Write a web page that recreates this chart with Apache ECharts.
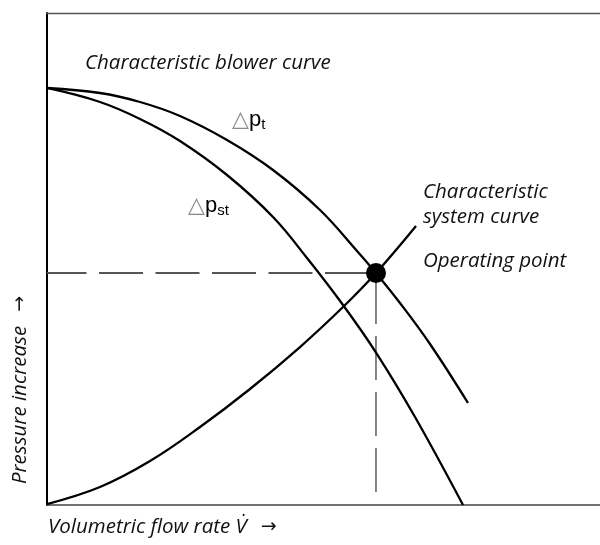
<!DOCTYPE html>
<html>
<head>
<meta charset="utf-8">
<script src="https://cdn.jsdelivr.net/npm/echarts@6/dist/echarts.min.js"></script>
<style>
  html, body { margin: 0; padding: 0; background: #fff; }
  #chart { width: 600px; height: 545px; }
</style>
</head>
<body>
<div id="chart"></div>
<script>
// blower curve, total pressure (dp_t)
const flowT = [0, 9.58, 16.82, 24.05, 32.55, 40.87, 49.37, 56.06, 59.49, 63.83, 69.26, 76.13];
const pressT = [84.76, 83.74, 81.91, 79.07, 74.19, 68.09, 59.96, 51.63, 47.15, 41.06, 32.72, 20.73];
// blower curve, static pressure (dp_st)
const flowSt = [0, 9.58, 16.82, 24.05, 32.55, 40.87, 47.02, 53.53, 59.67, 66.55, 75.23];
const pressSt = [84.76, 81.91, 78.46, 73.98, 67.07, 58.54, 50.20, 40.65, 30.69, 17.89, 0];
// system curve
const flowSys = [0, 9.58, 18.63, 27.67, 36.71, 45.75, 53.53, 59.49, 66.73];
const pressSys = [0.2, 3.66, 8.94, 15.85, 23.58, 32.11, 40.24, 47.15, 56.71];
// operating point + end of the vertical guide
const opFlow = 59.49;
const opPress = 47.15;
const vDashEnd = 2.0;

const labels = {
  blower: 'Characteristic blower curve',
  system1: 'Characteristic',
  system2: 'system curve',
  op: 'Operating point',
  yName: 'Pressure increase',
  xName: 'Volumetric flow rate V\u0307'
};

const pairs = (xs, ys) => xs.map((x, i) => [x, ys[i]]);

const italic = { fontFamily: 'Open Sans', fontStyle: 'italic', fontSize: 20.5, fill: '#111' };
const arrowRich = {
  t: { fontFamily: 'Open Sans', fontStyle: 'italic', fontSize: 20.5, fill: '#111' },
  a: { fontFamily: 'DejaVu Sans', fontSize: 19, fill: '#111', padding: [0, 0, 0, 14] }
};

const hiddenAxis = {
  type: 'value', min: 0, max: 100,
  axisTick: { show: false }, axisLabel: { show: false }, splitLine: { show: false }
};

const curve = (data) => ({
  type: 'line', data: data, smooth: 0.4, showSymbol: false, silent: true,
  lineStyle: { color: '#000', width: 2.3 }
});

const dpRich = {
  tri: { fontFamily: 'DejaVu Sans', fontSize: 22, fill: '#8a8a8a' },
  p: { fontFamily: 'Liberation Sans', fontSize: 22, fill: '#000' },
  sub: { fontFamily: 'Liberation Sans', fontSize: 15, fill: '#000', padding: [10, 0, 0, 0] }
};

const option = {
  animation: false,
  grid: { left: 47, right: 0, top: 13, bottom: 40 },
  xAxis: [
    Object.assign({}, hiddenAxis, { position: 'bottom', axisLine: { show: true, lineStyle: { color: '#444', width: 1.6 } } }),
    Object.assign({}, hiddenAxis, { position: 'top', axisLine: { show: true, lineStyle: { color: '#555', width: 1.4 } } })
  ],
  yAxis: Object.assign({}, hiddenAxis, { axisLine: { show: true, lineStyle: { color: '#000', width: 2 } } }),
  series: [
    {
      type: 'line', data: [[0, opPress], [opFlow, opPress]], showSymbol: false, silent: true,
      lineStyle: { color: '#555', width: 1.8, type: [44, 12.5], dashOffset: 4.5 }
    },
    {
      type: 'line', data: [[opFlow, opPress], [opFlow, vDashEnd]], showSymbol: false, silent: true,
      lineStyle: { color: '#333', width: 1.2, type: [44, 12], dashOffset: 49 }
    },
    curve(pairs(flowT, pressT)),
    curve(pairs(flowSt, pressSt)),
    curve(pairs(flowSys, pressSys)),
    {
      type: 'scatter', data: [[opFlow, opPress]], symbolSize: 20, silent: true, z: 10,
      itemStyle: { color: '#000', opacity: 1 }
    }
  ],
  graphic: [
    { type: 'text', left: 85, top: 53, style: Object.assign({ text: labels.blower }, italic) },
    { type: 'text', left: 423, top: 182, style: Object.assign({ text: labels.system1 }, italic) },
    { type: 'text', left: 423, top: 207, style: Object.assign({ text: labels.system2 }, italic) },
    { type: 'text', left: 423, top: 251, style: Object.assign({ text: labels.op }, italic) },
    {
      type: 'text', left: 48, top: 517,
      style: { text: '{t|' + labels.xName + '}{a|\u2192}', rich: arrowRich }
    },
    {
      type: 'text', x: 20, y: 390, rotation: Math.PI / 2,
      style: { text: '{t|' + labels.yName + '}{a|\u2192}', rich: arrowRich, align: 'center', verticalAlign: 'middle' }
    },
    { type: 'text', left: 232, top: 109, style: { text: '{tri|\u25B3}{p|p}{sub|t}', rich: dpRich } },
    { type: 'text', left: 188, top: 195, style: { text: '{tri|\u25B3}{p|p}{sub|st}', rich: dpRich } }
  ]
};

const chart = echarts.init(document.getElementById('chart'));
chart.setOption(option);
</script>
</body>
</html>
